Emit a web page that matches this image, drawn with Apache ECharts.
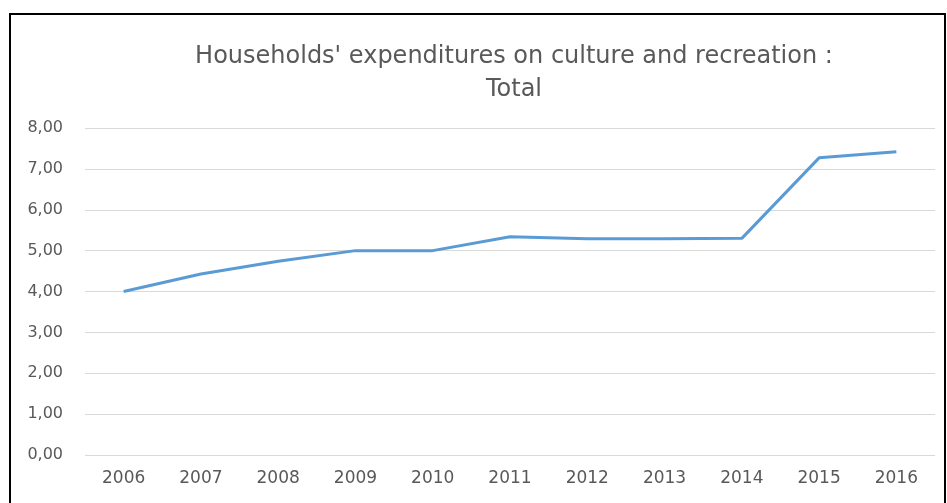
<!DOCTYPE html>
<html><head><meta charset="utf-8">
<script src="https://cdn.jsdelivr.net/npm/echarts@6/dist/echarts.min.js"></script>
<style>html,body{margin:0;padding:0;background:#fff}#c{width:947px;height:503px}</style>
</head><body><div id="c"></div>
<script>
const years = ['2006','2007','2008','2009','2010','2011','2012','2013','2014','2015','2016'];
const totals = [4.00, 4.43, 4.74, 5.00, 5.00, 5.34, 5.29, 5.29, 5.30, 7.27, 7.42];
const titleText = "Households' expenditures on culture and recreation :\nTotal";
const chart = echarts.init(document.getElementById('c'));
chart.setOption({
  animation: false,
  backgroundColor: '#fff',
  title: {
    text: titleText, left: 509, top: 35, textAlign: 'center',
    textStyle: { fontFamily: 'DejaVu Sans', fontWeight: 'normal', fontSize: 24, color: '#595959', lineHeight: 33 }
  },
  graphic: [{ type: 'rect', shape: { x: 10, y: 14, width: 935, height: 500 }, style: { fill: 'none', stroke: '#000', lineWidth: 2 }, z: 100 }],
  grid: { left: 85, right: 12, top: 128, bottom: 48 },
  xAxis: {
    type: 'category', data: years, boundaryGap: true,
    axisLine: { show: false }, axisTick: { show: false },
    axisLabel: { color: '#595959', fontFamily: 'DejaVu Sans', fontSize: 17, margin: 15 }
  },
  yAxis: {
    type: 'value', min: 0, max: 8, interval: 1,
    axisLine: { show: false }, axisTick: { show: false },
    splitLine: { lineStyle: { color: '#d9d9d9', width: 1 } },
    axisLabel: { color: '#595959', fontFamily: 'DejaVu Sans', fontSize: 16, margin: 22,
      formatter: v => v.toFixed(2).replace('.', ',') }
  },
  series: [{
    type: 'line', data: totals, showSymbol: false, symbol: 'none',
    lineStyle: { color: '#5B9BD5', width: 3 }, itemStyle: { color: '#5B9BD5' }
  }]
});
</script></body></html>
